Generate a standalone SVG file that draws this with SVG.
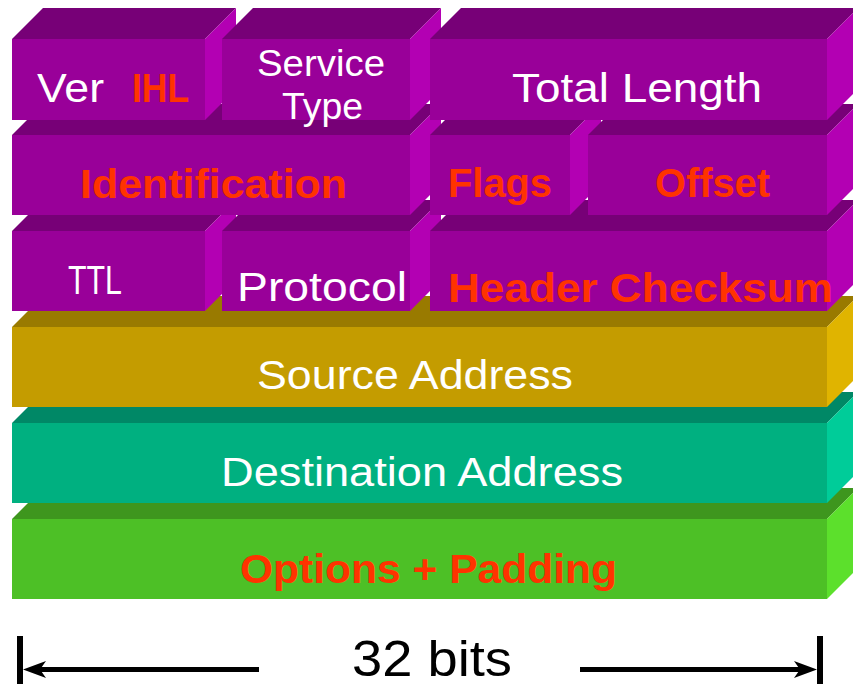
<svg xmlns="http://www.w3.org/2000/svg" width="853" height="687" viewBox="0 0 853 687">
  <style>
    .pu .t { fill: #770077; } .pu .s { fill: #b300b3; } .pu .f { fill: #990099; }
    .go .t { fill: #997a00; } .go .s { fill: #e0b400; } .go .f { fill: #c49c00; }
    .te .t { fill: #008866; } .te .s { fill: #00cc99; } .te .f { fill: #00b080; }
    .gr .t { fill: #3e961e; } .gr .s { fill: #5ce02c; } .gr .f { fill: #4dc026; }
    text { font-family: "Liberation Sans", Arial, sans-serif; }
    .w { fill: #ffffff; font-size: 41px; }
    .r { fill: #ff3300; font-size: 41px; font-weight: bold; }
    .scale { fill: #000000; font-size: 50px; }
  </style>
  <rect width="853" height="687" fill="#ffffff"/>

  <!-- Row 6: Options + Padding -->
  <g id="options" class="gr">
    <polygon class="t" points="12,519 827,519 858,488 43,488"/>
    <polygon class="s" points="827,519 858,488 858,568 827,599"/>
    <rect class="f" x="12" y="519" width="815" height="80"/>
    <text class="r" x="240" y="583" textLength="377" lengthAdjust="spacingAndGlyphs">Options + Padding</text>
  </g>

  <!-- Row 5: Destination Address -->
  <g id="destination" class="te">
    <polygon class="t" points="12,423 827,423 858,392 43,392"/>
    <polygon class="s" points="827,423 858,392 858,472 827,503"/>
    <rect class="f" x="12" y="423" width="815" height="80"/>
    <text class="w" x="221" y="486" textLength="402" lengthAdjust="spacingAndGlyphs">Destination Address</text>
  </g>

  <!-- Row 4: Source Address -->
  <g id="source" class="go">
    <polygon class="t" points="12,327 827,327 858,296 43,296"/>
    <polygon class="s" points="827,327 858,296 858,376 827,407"/>
    <rect class="f" x="12" y="327" width="815" height="80"/>
    <text class="w" x="257" y="389" textLength="316" lengthAdjust="spacingAndGlyphs">Source Address</text>
  </g>

  <!-- Row 3 -->
  <g id="ttl" class="pu">
    <polygon class="t" points="12,231 205,231 236,200 43,200"/>
    <polygon class="s" points="205,231 236,200 236,280 205,311"/>
    <rect class="f" x="12" y="231" width="193" height="80"/>
    <text class="w" x="68" y="294" textLength="54" lengthAdjust="spacingAndGlyphs">TTL</text>
  </g>
  <g id="protocol" class="pu">
    <polygon class="t" points="222,231 410,231 441,200 253,200"/>
    <polygon class="s" points="410,231 441,200 441,280 410,311"/>
    <rect class="f" x="222" y="231" width="188" height="80"/>
    <text class="w" x="237" y="301" textLength="170" lengthAdjust="spacingAndGlyphs">Protocol</text>
  </g>
  <g id="checksum" class="pu">
    <polygon class="t" points="430,231 827,231 858,200 461,200"/>
    <polygon class="s" points="827,231 858,200 858,280 827,311"/>
    <rect class="f" x="430" y="231" width="397" height="80"/>
    <text class="r" x="448" y="302" textLength="385" lengthAdjust="spacingAndGlyphs">Header Checksum</text>
  </g>

  <!-- Row 2 -->
  <g id="identification" class="pu">
    <polygon class="t" points="12,135 410,135 441,104 43,104"/>
    <polygon class="s" points="410,135 441,104 441,184 410,215"/>
    <rect class="f" x="12" y="135" width="398" height="80"/>
    <text class="r" x="80" y="198" textLength="267" lengthAdjust="spacingAndGlyphs">Identification</text>
  </g>
  <g id="flags" class="pu">
    <polygon class="t" points="430,135 570,135 601,104 461,104"/>
    <polygon class="s" points="570,135 601,104 601,184 570,215"/>
    <rect class="f" x="430" y="135" width="140" height="80"/>
    <text class="r" x="448" y="197" textLength="104" lengthAdjust="spacingAndGlyphs">Flags</text>
  </g>
  <g id="offset" class="pu">
    <polygon class="t" points="588,135 827,135 858,104 619,104"/>
    <polygon class="s" points="827,135 858,104 858,184 827,215"/>
    <rect class="f" x="588" y="135" width="239" height="80"/>
    <text class="r" x="655" y="197" textLength="115" lengthAdjust="spacingAndGlyphs">Offset</text>
  </g>

  <!-- Row 1 -->
  <g id="ver-ihl" class="pu">
    <polygon class="t" points="12,39 205,39 236,8 43,8"/>
    <polygon class="s" points="205,39 236,8 236,89 205,120"/>
    <rect class="f" x="12" y="39" width="193" height="81"/>
    <text class="w" x="37" y="102" textLength="67" lengthAdjust="spacingAndGlyphs">Ver</text>
    <text class="r" x="132" y="102" textLength="57" lengthAdjust="spacingAndGlyphs">IHL</text>
  </g>
  <g id="service-type" class="pu">
    <polygon class="t" points="222,39 410,39 441,8 253,8"/>
    <polygon class="s" points="410,39 441,8 441,89 410,120"/>
    <rect class="f" x="222" y="39" width="188" height="81"/>
    <text class="w" x="257" y="76" style="font-size:37px" textLength="128" lengthAdjust="spacingAndGlyphs">Service</text>
    <text class="w" x="282" y="119" style="font-size:37px" textLength="81" lengthAdjust="spacingAndGlyphs">Type</text>
  </g>
  <g id="total-length" class="pu">
    <polygon class="t" points="430,39 827,39 858,8 461,8"/>
    <polygon class="s" points="827,39 858,8 858,89 827,120"/>
    <rect class="f" x="430" y="39" width="397" height="81"/>
    <text class="w" x="512" y="102" textLength="250" lengthAdjust="spacingAndGlyphs">Total Length</text>
  </g>

  <!-- Width scale -->
  <g id="scale">
    <rect x="17" y="636" width="6" height="48" fill="#000"/>
    <rect x="817" y="636" width="6" height="48" fill="#000"/>
    <rect x="38" y="667" width="221" height="5" fill="#000"/>
    <rect x="580" y="667" width="222" height="5" fill="#000"/>
    <polygon points="23,669.5 46,661 40,669.5 46,678" fill="#000"/>
    <polygon points="817,669.5 794,661 800,669.5 794,678" fill="#000"/>
    <text class="scale" x="352" y="676" textLength="160" lengthAdjust="spacingAndGlyphs">32 bits</text>
  </g>
</svg>
